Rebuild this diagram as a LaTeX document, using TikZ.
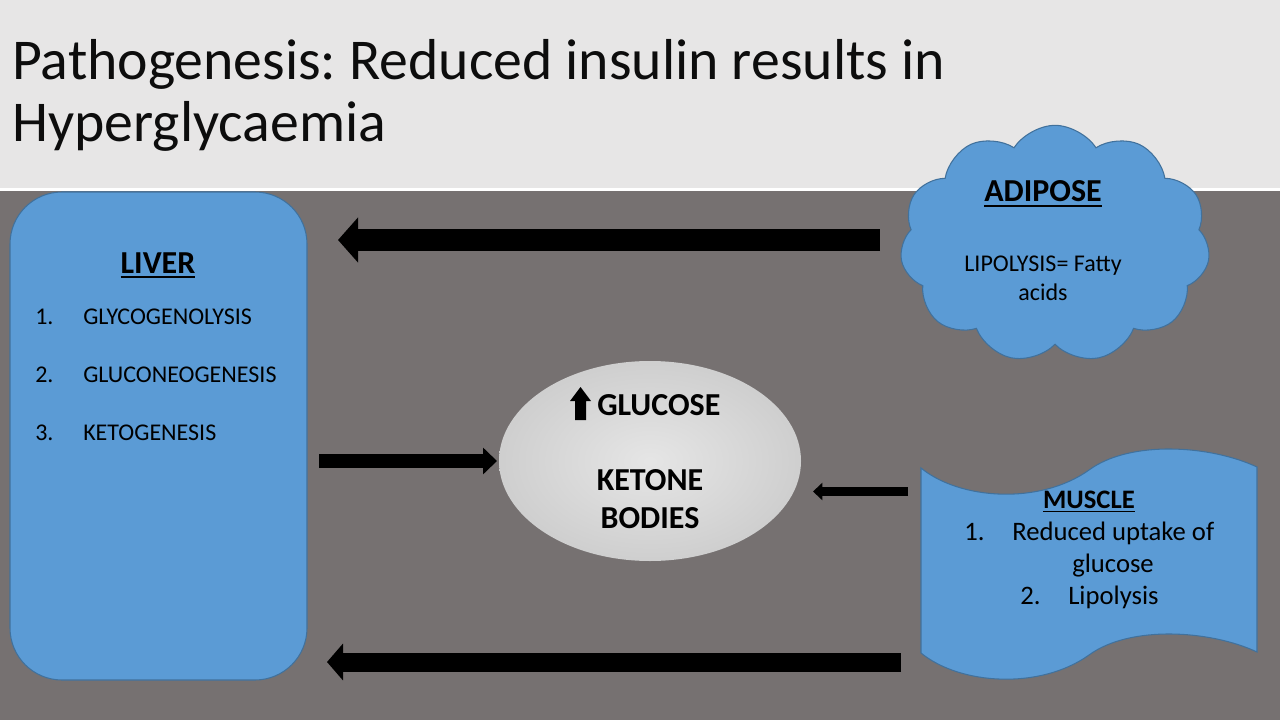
\documentclass[tikz,border=0pt]{standalone}
\usepackage{fontspec}
\setmainfont{Carlito}
\frenchspacing
\usetikzlibrary{shapes.geometric,shapes.symbols,arrows.meta}
\definecolor{hdr}{HTML}{E7E6E6}
\definecolor{bgc}{HTML}{767171}
\definecolor{blu}{HTML}{5B9BD5}
\definecolor{bord}{HTML}{41719C}
\definecolor{ttl}{HTML}{0D0D0D}
\newcommand\myul[1]{\setbox0\hbox{#1}\rlap{\rule[-0.16em]{\wd0}{0.06em}}\box0}
\tikzset{
  organ/.style={fill=blu,draw=bord,line width=0.8pt},
  txt/.style={inner sep=0pt,text=black},
  head/.style={txt,font=\fontsize{24}{28}\selectfont\bfseries},
  item/.style={txt,anchor=base west,font=\fontsize{18}{21}\selectfont},
  mitem/.style={txt,anchor=base west,font=\fontsize{20}{24}\selectfont},
  blockarrow/.style={draw=black,line cap=butt}
}
\begin{document}
\begin{tikzpicture}[x=0.75pt,y=-0.75pt]
\useasboundingbox (0,0) rectangle (1280,720);
\fill[bgc] (0,0) rectangle (1280,720);
\fill[hdr] (0,0) rectangle (1280,188);
\fill[white] (0,188) rectangle (1280,191);

% title
\node[txt,anchor=base west,text=ttl,font=\fontsize{43.3}{46}\selectfont] (title1) at (12,80) {Pathogenesis: Reduced insulin results in};
\node[txt,anchor=base west,text=ttl,font=\fontsize{43.3}{46}\selectfont] (title2) at (12,142) {Hyperglycaemia};

% liver
\node[organ,rectangle,rounded corners=39pt,minimum width=222.75pt,minimum height=366pt,inner sep=0pt] (liver) at (158.5,436) {};
\node[head,anchor=base] (livert) at (158,273) {\myul{LIVER}};
\node[item] (l1n) at (35,324) {1.};
\node[item] (l1) at (83,324) {GLYCOGENOLYSIS};
\node[item] (l2n) at (35,382) {2.};
\node[item] (l2) at (83,382) {GLUCONEOGENESIS};
\node[item] (l3n) at (35,440) {3.};
\node[item] (l3) at (83,440) {KETOGENESIS};

% adipose cloud
\node[organ,cloud,cloud puffs=11,cloud puff arc=115,minimum width=232.5pt,minimum height=178pt,inner sep=0pt] (adipose) at (1055,244) {};
\node[head,anchor=base] (adit) at (1043,202) {\myul{ADIPOSE}};
\node[txt,anchor=base,font=\fontsize{18}{21}\selectfont] (adi1) at (1043,272) {LIPOLYSIS= Fatty};
\node[txt,anchor=base,font=\fontsize{18}{21}\selectfont] (adi2) at (1043,300) {acids};

% glucose ellipse
\node[ellipse,inner sep=0pt,minimum width=226.5pt,minimum height=150pt,inner color=black!10,outer color=black!19] (gluc) at (650,461) {};
\fill[black] (575,420) -- (575,401) -- (570,401) -- (580.5,387) -- (591,401) -- (586,401) -- (586,420) -- cycle;
\node[head,anchor=base west] (glut) at (597,415) {GLUCOSE};
\node[head,anchor=base] (ket1) at (650,490) {KETONE};
\node[head,anchor=base] (ket2) at (650,528) {BODIES};

% muscle wave
\filldraw[organ] (921,468) .. controls (960,500) and (1040,505) .. (1089,470)
  .. controls (1130,440) and (1210,445) .. (1257,467) -- (1257,652)
  .. controls (1210,630) and (1130,625) .. (1089,655)
  .. controls (1040,690) and (960,685) .. (921,653) -- cycle;
\node[txt,anchor=base,font=\fontsize{20}{24}\selectfont\bfseries] (muscle) at (1089,508) {\myul{MUSCLE}};
\node[mitem] (m1n) at (964,540) {1.};
\node[mitem] (m1) at (1012,540) {Reduced uptake of};
\node[mitem] (m1b) at (1072,572) {glucose};
\node[mitem] (m2n) at (1020,604) {2.};
\node[mitem] (m2) at (1068,604) {Lipolysis};

% arrow end points
\coordinate (aTail) at (880,240);
\coordinate (aTip) at (338,240);
\coordinate (lTail) at (319,461);
\coordinate (lTip) at (497,461);
\coordinate (mTail) at (908,491.5);
\coordinate (mTip) at (813,491.5);
\coordinate (bTail) at (901,662);
\coordinate (bTip) at (327,662);

\draw[blockarrow,line width=16.5pt,-{Triangle[length=15pt,width=33pt]}] (aTail) -- (aTip);
\draw[blockarrow,line width=10.5pt,-{Triangle[length=10.5pt,width=19.5pt]}] (lTail) -- (lTip);
\draw[blockarrow,line width=6.75pt,-{Triangle[length=7pt,width=12.75pt]}] (mTail) -- (mTip);
\draw[blockarrow,line width=14.25pt,-{Triangle[length=12pt,width=27pt]}] (bTail) -- (bTip);
\end{tikzpicture}
\end{document}
